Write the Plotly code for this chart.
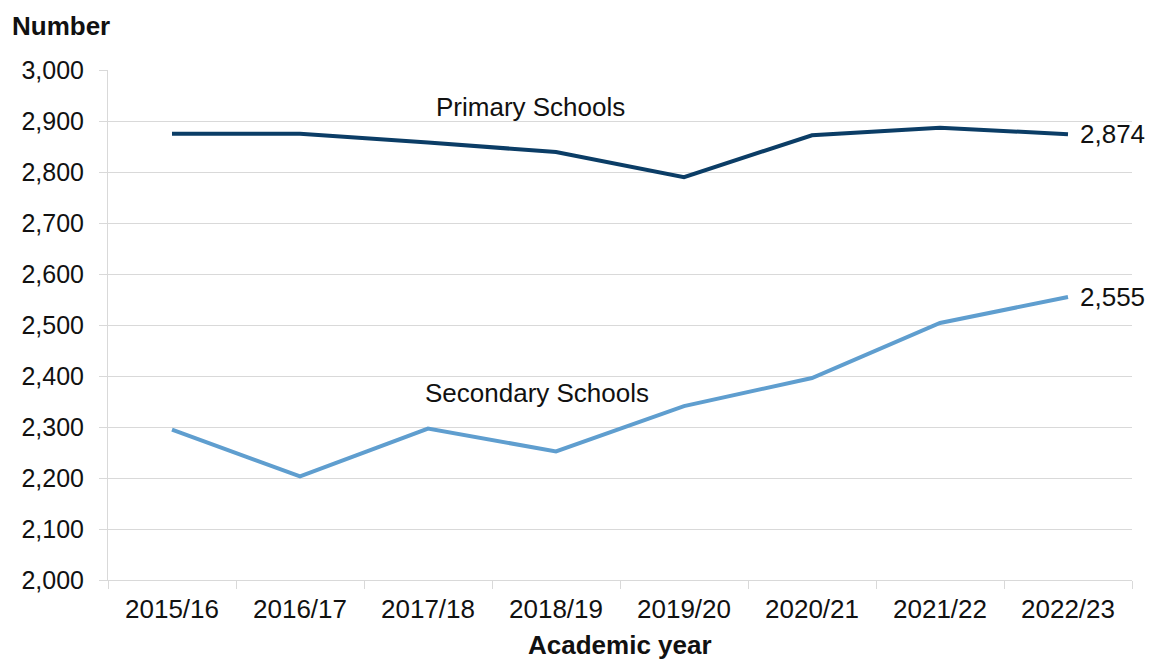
import plotly.graph_objects as go

years = ["2015/16", "2016/17", "2017/18", "2018/19", "2019/20", "2020/21", "2021/22", "2022/23"]
primary = [2875, 2875, 2858, 2839, 2790, 2872, 2887, 2874]
secondary = [2295, 2203, 2297, 2252, 2341, 2396, 2504, 2555]
y_ticks = [2000, 2100, 2200, 2300, 2400, 2500, 2600, 2700, 2800, 2900, 3000]

PRIMARY_COLOR = "#0b3d66"
SECONDARY_COLOR = "#5f9ecf"
GRID = "#d9d9d9"
TEXT = "#111111"
FONT = "Liberation Sans, Arial, sans-serif"

fig = go.Figure()
fig.add_trace(go.Scatter(x=years, y=primary, mode="lines", name="Primary Schools",
                         line=dict(color=PRIMARY_COLOR, width=4)))
fig.add_trace(go.Scatter(x=years, y=secondary, mode="lines", name="Secondary Schools",
                         line=dict(color=SECONDARY_COLOR, width=4)))

# end-of-line value labels
for series in (primary, secondary):
    fig.add_annotation(x=years[-1], y=series[-1], text=f"{series[-1]:,}", showarrow=False,
                       xanchor="left", yanchor="middle", xshift=10,
                       font=dict(size=26, color=TEXT, family=FONT))

# series name labels
fig.add_annotation(x=2.8, y=2928, text="Primary Schools", showarrow=False,
                   xanchor="center", yanchor="middle", font=dict(size=26, color=TEXT, family=FONT))
fig.add_annotation(x=2.85, y=2367, text="Secondary Schools", showarrow=False,
                   xanchor="center", yanchor="middle", font=dict(size=26, color=TEXT, family=FONT))

# axis titles
fig.add_annotation(xref="paper", yref="paper", x=-0.096, y=1.086, text="<b>Number</b>",
                   showarrow=False, xanchor="left", yanchor="middle",
                   font=dict(size=26, color=TEXT, family=FONT))
fig.add_annotation(xref="paper", yref="paper", x=0.5, y=-0.1275, text="<b>Academic year</b>",
                   showarrow=False, xanchor="center", yanchor="middle",
                   font=dict(size=26, color=TEXT, family=FONT))

fig.update_xaxes(type="category", range=[-0.5, 7.5], showgrid=False,
                 showline=True, linecolor=GRID, linewidth=1,
                 ticks="outside", tickson="boundaries", ticklen=8, tickcolor=GRID,
                 tickfont=dict(size=26, color=TEXT, family=FONT), ticklabelstandoff=6)
fig.update_yaxes(range=[2000, 3000], tickvals=y_ticks, tickformat=",",
                 showgrid=True, gridcolor=GRID, gridwidth=1, zeroline=False,
                 showline=True, linecolor=GRID, linewidth=1,
                 ticks="outside", ticklen=8, tickcolor=GRID,
                 tickfont=dict(size=25, color=TEXT, family=FONT), ticklabelstandoff=10)

fig.update_layout(width=1157, height=662, margin=dict(l=108, r=25, t=70, b=82),
                  plot_bgcolor="white", paper_bgcolor="white", showlegend=False)

fig.write_html("out.html")
